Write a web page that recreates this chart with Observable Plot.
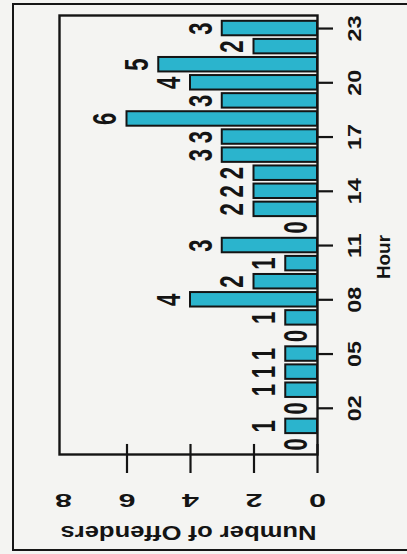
<!DOCTYPE html>
<html><head><meta charset="utf-8">
<script src="https://cdn.jsdelivr.net/npm/d3@7"></script>
<script src="https://cdn.jsdelivr.net/npm/@observablehq/plot@0.6"></script>
<style>
html,body{margin:0;padding:0;background:#f4f4f2;}
#chart{position:relative;width:407px;height:554px;overflow:hidden;}
#border{position:absolute;left:12px;top:3px;width:400px;height:548px;border:2px solid #161616;border-right:none;box-sizing:border-box;pointer-events:none;}
</style></head><body>
<div id="chart"><div id="border"></div></div>
<script>
// ---- data ----
const hours = [0,1,2,3,4,5,6,7,8,9,10,11,12,13,14,15,16,17,18,19,20,21,22,23];
const offenders = [0,1,0,1,1,1,0,1,4,2,1,3,0,2,2,2,3,3,6,3,4,5,2,3];
const hourTickValues = [2,5,8,11,14,17,20,23];
const hourTickLabels = ["02","05","08","11","14","17","20","23"];
const countTicks = [0,2,4,6,8];
const countLabel = "Number of Offenders";
const hourLabel = "Hour";

// ---- layout ----
const W = 407, H = 554;
const yDomain = [-0.5, 23.5];
const data = hours.map((h, i) => ({hour: h, count: offenders[i]}));
const hourTickData = hourTickValues.map((v, i) => ({v, label: hourTickLabels[i]}));
const font = "'Liberation Sans', Arial, sans-serif";
const ink = "#141414";

const plot = Plot.plot({
  width: W, height: H,
  marginLeft: 59, marginRight: 90, marginTop: 15, marginBottom: 100,
  style: {background: "transparent", fontFamily: font, fontWeight: "bold", color: ink, overflow: "visible"},
  x: {domain: [0, 8], reverse: true, insetLeft: 4, axis: null},
  y: {domain: yDomain, insetTop: 4, insetBottom: 1, axis: null},
  marks: [
    Plot.rectX(data, {x1: 0, x2: "count", y1: d => d.hour - 0.4, y2: d => d.hour + 0.4,
      fill: "#2bb4cd", stroke: ink, strokeWidth: 2}),
    Plot.frame({stroke: ink, strokeWidth: 2.4}),
    Plot.text(data, {x: "count", y: "hour", text: d => String(d.count), rotate: -90, dx: -21,
      fontSize: 21, fontWeight: "bold", fill: ink, ariaDescription: "bar-values"}),
    // hour axis (right)
    Plot.ruleY(hourTickValues, {y: d => d, x1: 0, insetRight: -16, stroke: ink, strokeWidth: 2.2}),
    Plot.text(hourTickData, {x: 0, y: "v", text: "label", rotate: -90, dx: 38,
      fontSize: 18, fontWeight: "bold", fill: ink, ariaDescription: "hour-ticks"}),
    Plot.text([hourLabel], {frameAnchor: "right", dx: 67, rotate: -90,
      fontSize: 18, fontWeight: "bold", fill: ink, ariaDescription: "hour-label"}),
    // count axis (bottom)
    Plot.ruleX(countTicks.filter(d => d < 8), {x: d => d, y1: yDomain[0], insetBottom: -20, stroke: ink, strokeWidth: 2.2}),
    Plot.text(countTicks, {x: d => d, frameAnchor: "bottom", dy: 39, rotate: 180,
      fontSize: 18, fontWeight: "bold", fill: ink, ariaDescription: "count-ticks"}),
    Plot.text([countLabel], {frameAnchor: "bottom", dy: 71, rotate: 180,
      fontSize: 21, fontWeight: "bold", fill: ink, ariaDescription: "count-label"})
  ]
});
// stretch glyphs the way the scanned original is stretched
const svg = d3.select(plot);
const textGroups = svg.selectAll('g[aria-label="text"]').nodes();
const order = ["bar-values", "hour-ticks", "hour-label", "count-ticks", "count-label"];
function stretch(label, sx, sy) {
  let g = svg.select(`g[aria-description="${label}"]`).node();
  if (!g) g = textGroups[order.indexOf(label)];
  if (!g) return;
  d3.select(g).selectAll("text").each(function() {
    const t = this.getAttribute("transform") || "";
    this.setAttribute("transform", `${t} scale(${sx},${sy})`);
  });
}
stretch("bar-values", 1.05, 1.55);
stretch("hour-ticks", 1.3, 1);
stretch("hour-label", 1.05, 1);
stretch("count-ticks", 1.7, 1);
stretch("count-label", 1.22, 1);

plot.style.position = "absolute";
plot.style.left = "0px";
plot.style.top = "0px";
document.getElementById("chart").appendChild(plot);
</script>
</body></html>
